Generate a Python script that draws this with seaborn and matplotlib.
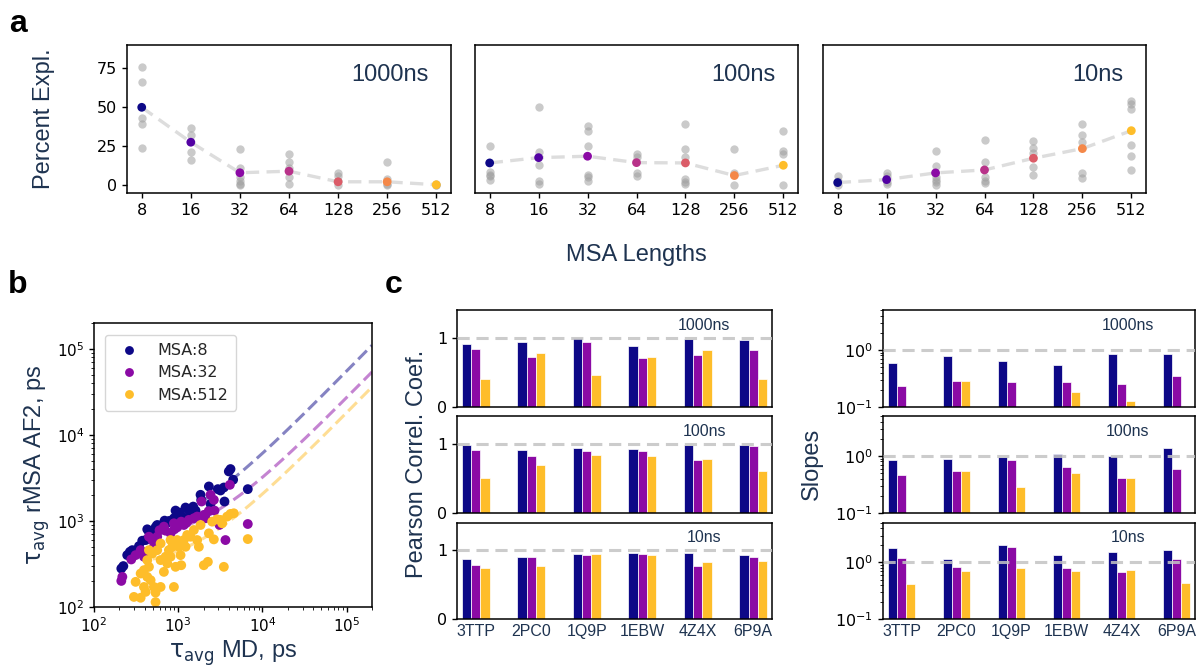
import numpy as np
import pandas as pd
import matplotlib
matplotlib.use("Agg")
import matplotlib.pyplot as plt
from matplotlib.ticker import NullFormatter
import seaborn as sns

sns.set_style("ticks", {"axes.edgecolor": "black", "xtick.color": "black",
                        "ytick.color": "black"})
plt.rcParams["font.family"] = ["DejaVu Sans"]
plt.rcParams["axes.linewidth"] = 1.1
plt.rcParams["xtick.major.width"] = 1.0
plt.rcParams["ytick.major.width"] = 1.0

LABEL_FONT = ["Liberation Sans", "DejaVu Sans"]
LABEL_COLOR = "#1e3350"
TICK_SIZE = 11.5
LABEL_SIZE = 17

# ---------------- data ----------------
msa_lengths = [8, 16, 32, 64, 128, 256, 512]
sim_times = ["1000ns", "100ns", "10ns"]

# (a) percent explained: mean over proteins and the individual proteins
mean_pct_1000 = [50, 27.6, 8, 9, 2.2, 2.2, 0.3]
mean_pct_100 = [14.3, 17.7, 18.6, 14.5, 14.3, 6.2, 12.8]
mean_pct_10 = [1.7, 3.6, 7.9, 9.8, 17.3, 23.5, 35]

protein_pct_1000 = [[76, 66, 43, 39, 24], [37, 32, 21, 16], [23, 11, 5, 2.5, 0.5, 0],
                    [20, 15, 11, 5, 0.5], [8, 6, 3, 0.3], [15, 4, 0.5, 0], [0.2, 0.8, 0.0]]
protein_pct_100 = [[25, 8.3, 5.8, 3.2, 6.5], [50.2, 21.2, 12.8, 3, 1], [38, 35, 25, 6.6, 5, 3],
                   [20, 18, 8, 6], [39, 23, 18, 4, 2, 0.5], [23, 8, 0], [35, 22, 20, 0]]
protein_pct_10 = [[5.8, 0, 2.5], [7.9, 5.8, 0.9, 2], [22.2, 12.6, 5.1, 1.9, 0.2, 3.5],
                  [29.3, 15.2, 5.1, 3, 1.5], [28.2, 24.1, 20.5, 11.5, 6.8],
                  [39.1, 32.5, 27.6, 7.9, 4.9], [54.3, 52.1, 48.9, 25.9, 19, 10]]

# (b) relaxation times, MD vs reduced-MSA AF2 (ps)
md_msa8 = [211, 223, 267, 285, 342, 374, 429, 449, 478, 538, 563, 689, 741, 930, 973,
           1222, 1337, 1506, 1605, 1841, 1875, 2313, 2418, 2953, 3177, 3482, 3543, 3990,
           4177, 4490, 6700, 889, 618, 410, 327, 248, 1050, 1150, 780, 520, 1400]
af2_msa8 = [280, 299, 438, 458, 510, 589, 800, 750, 687, 844, 898, 1009, 957, 1321, 1176,
            1432, 1344, 1469, 1321, 2014, 1760, 2518, 1579, 2344, 2261, 2449, 1683, 3767,
            4011, 3015, 2344, 1075, 859, 600, 458, 401, 1250, 1100, 1000, 720, 1200]
md_msa32 = [211, 217, 277, 312, 358, 429, 449, 492, 563, 676, 708, 889, 973, 1086, 1167,
            1337, 1534, 1679, 1892, 2109, 2418, 2648, 2697, 3639, 4102, 6700, 2014, 811,
            514, 392, 3090, 600, 900, 1250, 2300]
af2_msa32 = [201, 224, 357, 401, 458, 401, 656, 600, 656, 859, 771, 939, 844, 982, 898,
             1028, 1075, 1125, 1683, 1075, 2014, 1760, 1321, 600, 2630, 922, 1176, 718,
             501, 384, 900, 780, 800, 950, 1300]
md_msa512 = [298, 358, 312, 392, 410, 429, 449, 514, 538, 538, 618, 676, 741, 811, 849,
             889, 930, 973, 1066, 1086, 1167, 1278, 1400, 1534, 1679, 1758, 1841, 2014,
             2249, 2313, 2531, 2648, 2899, 3177, 3326, 3482, 3811, 4177, 4571, 6700, 618,
             563, 492, 392, 358, 449, 775, 1019, 708, 1222, 811, 618, 429, 470]
af2_msa512 = [131, 128, 196, 171, 150, 224, 293, 171, 147, 114, 171, 256, 321, 384, 501,
              171, 293, 600, 401, 306, 600, 687, 656, 785, 600, 501, 898, 306, 335, 718,
              982, 611, 1045, 1028, 939, 293, 1125, 1208, 1228, 616, 351, 458, 419, 268,
              245, 458, 458, 501, 384, 501, 600, 548, 351, 205]
fit_slope = [0.547, 0.267, 0.179]
fit_intercept = [646, 550, 271]

# (c) per-protein Pearson coefficients and slopes; rows are MSA:8, MSA:32, MSA:512
proteins = ["3TTP", "2PC0", "1Q9P", "1EBW", "4Z4X", "6P9A"]
bar_msa_labels = ["MSA:8", "MSA:32", "MSA:512"]
pearson_1000 = [[0.91, 0.94, 0.995, 0.88, 0.98, 0.96],
                [0.83, 0.72, 0.94, 0.71, 0.75, 0.82],
                [0.41, 0.78, 0.46, 0.72, 0.82, 0.41]]
pearson_100 = [[0.976, 0.91, 0.94, 0.93, 0.98, 0.985],
               [0.91, 0.82, 0.90, 0.89, 0.77, 0.96],
               [0.50, 0.69, 0.83, 0.82, 0.78, 0.61]]
pearson_10 = [[0.875, 0.91, 0.95, 0.96, 0.957, 0.94],
              [0.79, 0.90, 0.94, 0.95, 0.77, 0.90],
              [0.745, 0.77, 0.95, 0.94, 0.83, 0.85]]
slopes_1000 = [[0.59, 0.78, 0.64, 0.54, 0.86, 0.86],
               [0.23, 0.28, 0.27, 0.27, 0.25, 0.35],
               [np.nan, 0.29, np.nan, 0.18, 0.125, np.nan]]
slopes_100 = [[0.86, 0.87, 0.95, 1.07, 1.01, 1.40],
              [0.46, 0.55, 0.84, 0.64, 0.41, 0.59],
              [np.nan, 0.55, 0.28, 0.50, 0.41, np.nan]]
slopes_10 = [[1.78, 1.13, 2.01, 1.35, 1.52, 1.69],
             [1.19, 0.83, 1.90, 0.785, 0.69, 1.16],
             [0.41, 0.70, 0.785, 0.70, 0.75, 0.43]]

# ---------------- styling ----------------
plasma = plt.get_cmap("plasma")
msa_colors = [plasma(i / 7) for i in range(7)]
bar_colors = [msa_colors[0], msa_colors[2], msa_colors[6]]
DASH = (0, (4, 2.2))

W, H = 1197, 667
fig = plt.figure(figsize=(W / 100, H / 100), dpi=100)


def rect(x0, y0, x1, y1):
    return [x0 / W, 1 - y1 / H, (x1 - x0) / W, (y1 - y0) / H]


def label_text(size):
    return dict(fontsize=size, color=LABEL_COLOR, family=LABEL_FONT)


# ---------------- (a) ----------------
a_boxes = [(127, 45, 451, 193), (475, 45, 798, 193), (823, 45, 1146, 193)]
a_means = [mean_pct_1000, mean_pct_100, mean_pct_10]
a_proteins = [protein_pct_1000, protein_pct_100, protein_pct_10]
positions = list(range(len(msa_lengths)))
for k, (box, title, means, prot) in enumerate(zip(a_boxes, sim_times, a_means, a_proteins)):
    ax = fig.add_axes(rect(*box))
    gx = [i for i, vals in enumerate(prot) for _ in vals]
    gy = [v for vals in prot for v in vals]
    sns.scatterplot(x=gx, y=gy, color="#a0a0a0", alpha=0.55, s=36, linewidth=0,
                    ax=ax, zorder=1)
    sns.lineplot(x=positions, y=means, color="#dddddd", lw=2.4, ls=DASH, ax=ax,
                 zorder=2)
    sns.scatterplot(x=positions, y=means, hue=[str(m) for m in msa_lengths],
                    palette=msa_colors, s=40, linewidth=0, legend=False, ax=ax, zorder=3)
    ax.set_xlim(-0.3, 6.3)
    ax.set_ylim(-5, 90)
    ax.set_xticks(positions)
    ax.set_xticklabels([str(m) for m in msa_lengths], fontsize=TICK_SIZE)
    if k == 0:
        ax.set_yticks([0, 25, 50, 75])
        ax.tick_params(axis="y", labelsize=TICK_SIZE)
        ax.set_ylabel("Percent Expl.", **label_text(LABEL_SIZE))
        ax.yaxis.set_label_coords(-0.222, 0.5)
    else:
        ax.set_yticks([])
    ax.text(0.93, 0.80, title, transform=ax.transAxes, ha="right", va="center",
            **label_text(LABEL_SIZE))
    for side in ax.spines.values():
        side.set_visible(True)

fig.text(636 / W, 1 - 255 / H, "MSA Lengths", ha="center", va="center",
         **label_text(LABEL_SIZE))

# ---------------- (b) ----------------
axb = fig.add_axes(rect(94, 323, 372, 607))
scatter_df = pd.DataFrame({
    "md": md_msa8 + md_msa32 + md_msa512,
    "af2": af2_msa8 + af2_msa32 + af2_msa512,
    "msa": (["MSA:8"] * len(md_msa8) + ["MSA:32"] * len(md_msa32)
            + ["MSA:512"] * len(md_msa512)),
})
xfit = np.logspace(np.log10(500), np.log10(2e5), 200)
for a, b, c in zip(fit_slope, fit_intercept, bar_colors):
    sns.lineplot(x=xfit, y=a * xfit + b, color=c, alpha=0.5, lw=2.2, ls=(0, (4, 1.8)),
                 ax=axb, zorder=1)
sns.scatterplot(data=scatter_df, x="md", y="af2", hue="msa", hue_order=bar_msa_labels,
                palette=bar_colors, s=50, linewidth=0, alpha=1, ax=axb, zorder=2)
axb.set_xscale("log")
axb.set_yscale("log")
axb.set_xlim(100, 2e5)
axb.set_ylim(100, 2e5)
axb.xaxis.set_minor_formatter(NullFormatter())
axb.yaxis.set_minor_formatter(NullFormatter())
axb.tick_params(which="both", labelsize=11)
axb.tick_params(which="minor", length=2.5)
handles, labels = axb.get_legend_handles_labels()
axb.legend(handles, labels, loc="upper left", fontsize=11.5, markerscale=0.9,
           borderpad=0.5, labelspacing=0.45, bbox_to_anchor=(0.01, 0.985))
axb.set_xlabel(r"$\mathrm{\tau}_{\mathrm{avg}}$ MD, ps", **label_text(LABEL_SIZE))
axb.set_ylabel(r"$\mathrm{\tau}_{\mathrm{avg}}$ rMSA AF2, ps", **label_text(LABEL_SIZE))
axb.xaxis.set_label_coords(0.5, -0.11)
axb.yaxis.set_label_coords(-0.15, 0.5)


# ---------------- (c) ----------------
def bar_panel(ax, rows, title, log=False, show_x=False):
    recs = []
    for lab, vals in zip(bar_msa_labels, rows):
        for prot, v in zip(proteins, vals):
            if not np.isnan(v):
                recs.append((prot, lab, v))
    df = pd.DataFrame(recs, columns=["protein", "msa", "value"])
    sns.barplot(data=df, x="protein", y="value", hue="msa", order=proteins,
                hue_order=bar_msa_labels, palette=bar_colors, width=0.5, saturation=1,
                edgecolor="white", linewidth=0.5, errorbar=None, legend=False, ax=ax)
    if log:
        ax.set_yscale("log")
        ax.set_ylim(0.1, 5)
        ax.yaxis.set_minor_formatter(NullFormatter())
        ax.tick_params(axis="y", which="minor", length=2.5)
    else:
        ax.set_ylim(0, 1.4)
        ax.set_yticks([0, 1])
    ax.axhline(1, color="#c4c4c4", alpha=0.85, lw=2.2, ls=DASH, zorder=5)
    ax.set_xlim(-0.34, 5.34)
    ax.set_xlabel("")
    ax.set_ylabel("")
    ax.tick_params(axis="y", labelsize=TICK_SIZE)
    ax.tick_params(axis="x", length=0)
    if show_x:
        ax.set_xticks(range(len(proteins)))
        ax.set_xticklabels(proteins, **label_text(TICK_SIZE))
    else:
        ax.set_xticklabels([])
    ax.text(0.785, 0.845, title, transform=ax.transAxes, ha="center", va="center",
            **label_text(11.5))
    for side in ax.spines.values():
        side.set_visible(True)


c_rows = [(310, 407), (416, 513), (523, 619)]
pearson_sets = [pearson_1000, pearson_100, pearson_10]
slope_sets = [slopes_1000, slopes_100, slopes_10]
for i, ((top, bottom), title) in enumerate(zip(c_rows, sim_times)):
    axp = fig.add_axes(rect(457, top, 772, bottom))
    bar_panel(axp, pearson_sets[i], title, log=False, show_x=(i == 2))
    axs = fig.add_axes(rect(883, top, 1195, bottom))
    bar_panel(axs, slope_sets[i], title, log=True, show_x=(i == 2))

fig.text(417 / W, 1 - 464 / H, "Pearson Correl. Coef.", rotation=90, ha="center",
         va="center", **label_text(LABEL_SIZE))
fig.text(812 / W, 1 - 464 / H, "Slopes", rotation=90, ha="center", va="center",
         **label_text(LABEL_SIZE))

# panel letters
for letter, (x, y) in zip("abc", [(9, 32), (8, 293), (385, 293)]):
    fig.text(x / W, 1 - y / H, letter, fontsize=23, fontweight="bold",
             family=LABEL_FONT, color="black", ha="left", va="baseline")

fig.savefig("out.png", dpi=100)
